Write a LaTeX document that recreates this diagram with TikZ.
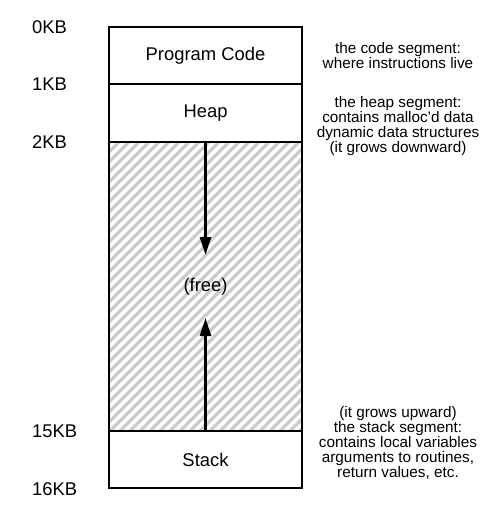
\documentclass[tikz,border=0pt]{standalone}
\usepackage{fontspec}
\setmainfont{Liberation Sans}
\usetikzlibrary{positioning,arrows.meta}

\tikzset{
	seg/.style={draw, line width=1.5pt, minimum width=193pt, inner sep=0pt, outer sep=0pt, font=\fontsize{18.4}{20}\selectfont},
	addr/.style={anchor=west, inner sep=0pt, font=\fontsize{18.4}{20}\selectfont},
	note/.style={align=center, inner sep=0pt, font=\fontsize{15.3}{15}\selectfont},
	growarrow/.style={line width=3pt, -{Triangle[length=18pt,width=11pt]}}
}

\begin{document}
\begin{tikzpicture}[x=1pt,y=1pt]
	\useasboundingbox (0,0) rectangle (500,-530);
	
	% Hatching of the free space
	\begin{scope}
		\clip (109,-142) rectangle (302,-431);
		\foreach \i in {-190,-180,...,310}
		\draw[gray!40, line width=3.5pt] (\i,-431) -- (\i+289,-142);
	\end{scope}
	
	% Segments
	\node (code) at (205.5,-55.5) [seg, minimum height=57pt] {Program Code};
	\node (heap) [seg, minimum height=58pt, below=0pt of code] {Heap};
	\node (free) [seg, minimum height=289pt, below=0pt of heap] {(free)};
	\node (stack) [seg, minimum height=57pt, below=0pt of free] {Stack};
	
	% Growth arrows
	\coordinate (heaptip) at (205.5,-255);
	\coordinate (stacktip) at (205.5,-318);
	\draw[growarrow] (free.north) -- (heaptip);
	\draw[growarrow] (free.south) -- (stacktip);
	
	% Addresses
	\node (kb0) at (32,-27) [addr] {0KB};
	\node (kb1) at (32,-84.5) [addr] {1KB};
	\node (kb2) at (32,-142) [addr] {2KB};
	\node (kb15) at (32,-431) [addr] {15KB};
	\node (kb16) at (32,-489) [addr] {16KB};
	
	% Notes
	\node (codenote) at (398,-55.5) [note] {the code segment:\\where instructions live};
	\node (heapnote) at (398,-126) [note] {the heap segment:\\contains malloc'd data\\dynamic data structures\\(it grows downward)};
	\node (stacknote) at (398,-443) [note] {(it grows upward)\\the stack segment:\\contains local variables\\arguments to routines,\\return values, etc.};
\end{tikzpicture}
\end{document}
